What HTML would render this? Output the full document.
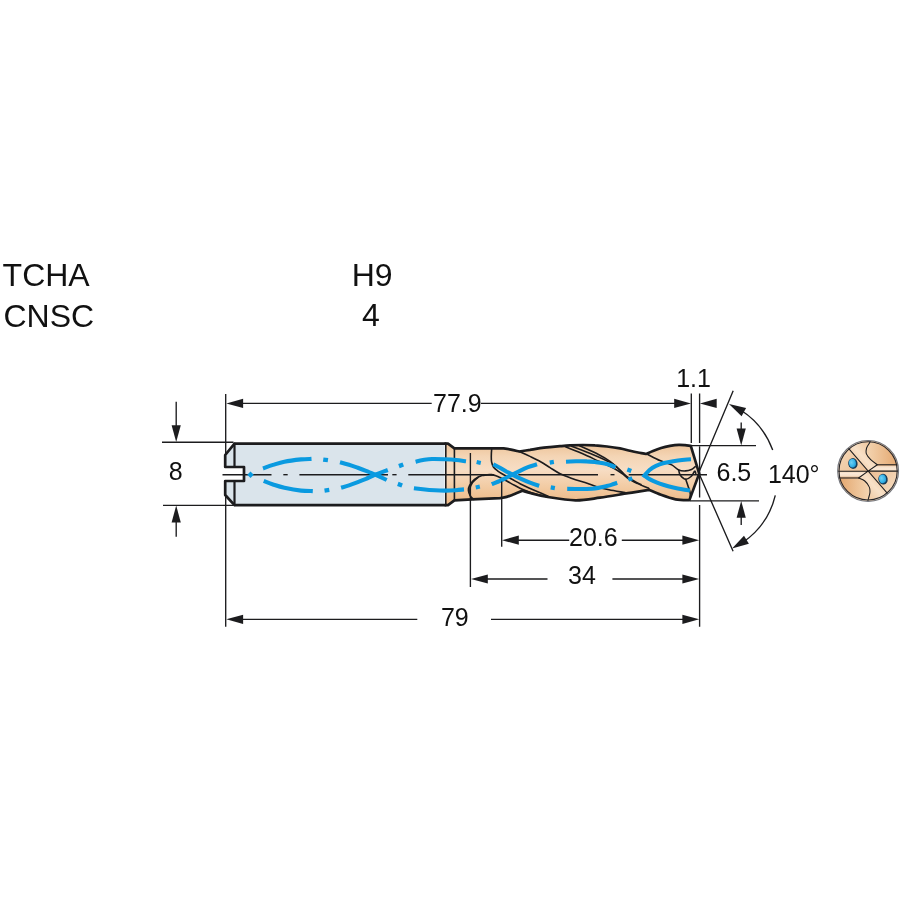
<!DOCTYPE html>
<html lang="en"><head><meta charset="utf-8"><title>Drill dimension drawing</title>
<style>
html,body{margin:0;padding:0;background:#fff;}
body{width:900px;height:900px;overflow:hidden;position:relative;font-family:"Liberation Sans",Arial,Helvetica,sans-serif;color:#111;}
svg{position:absolute;left:0;top:0;display:block;will-change:transform;}
.t{font-family:"Liberation Sans",Arial,Helvetica,sans-serif;fill:#111;}
.big{font-size:32px;}
.dim{font-size:25px;}
.thin{fill:none;stroke:#1c1c1e;stroke-width:1.35;}
.out{fill:none;stroke:#1c1c1e;stroke-width:2.7;stroke-linejoin:round;stroke-linecap:round;}
.med{fill:none;stroke:#1c1c1e;stroke-width:1.6;stroke-linecap:round;stroke-linejoin:round;}
.blue{fill:none;stroke:#0a9ae0;stroke-width:4.1;}
.ar{fill:#1c1c1e;stroke:none;}
</style></head><body>
<svg width="900" height="900" viewBox="0 0 900 900">
<defs>
<linearGradient id="gd" x1="0" y1="444" x2="0" y2="501" gradientUnits="userSpaceOnUse"><stop offset="0" stop-color="#edc399"/><stop offset="0.22" stop-color="#f4d5b5"/><stop offset="0.45" stop-color="#f7ddc4"/><stop offset="0.75" stop-color="#f2cba3"/><stop offset="1" stop-color="#edbb8a"/></linearGradient>
<linearGradient id="gc" x1="838" y1="441" x2="899" y2="502" gradientUnits="userSpaceOnUse"><stop offset="0" stop-color="#f4d3b2"/><stop offset="0.5" stop-color="#efc59c"/><stop offset="1" stop-color="#e7b080"/></linearGradient>
</defs>
<text class="t big" x="2.6" y="286.3">TCHA</text>
<text class="t big" x="3.5" y="326.7">CNSC</text>
<text class="t big" x="372.2" y="286.3" text-anchor="middle">H9</text>
<text class="t big" x="371" y="326.3" text-anchor="middle">4</text>
<path d="M234.5,443.7 L444.6,443.7 L444.6,505.2 L234.5,505.2 L225.2,495 L225.2,481 L244,481 L244,467 L225.2,467 L225.2,455 Z" fill="#dae4eb"/>
<path d="M445.5,443.7 L448,443.7 L454.4,448.3 L503,448.3  C504.3,448.5 508.3,449.1 511,449.6 C513.7,450.1 517.8,451.2 519.2,451.5 C521,451.2 526.5,450.4 530,449.9 C533.5,449.3 536.7,448.7 540,448.2 C543.3,447.7 546.7,447.4 550,447.1 C553.3,446.8 556.7,446.5 560,446.2 C563.3,445.9 566.2,445.6 570,445.4 C573.8,445.2 578.8,445 583,445 C587.2,445 591,445.1 595,445.4 C599,445.6 602.8,446 607,446.5 C611.2,447 616.2,447.7 620,448.4 C623.8,449.1 627,450.1 630,450.8 C633,451.5 635.3,452 638,452.5 C640.7,453 644.7,453.8 646,454 C647.2,453.5 650.5,452 653,451 C655.5,450 658.3,448.9 661.1,448 C663.9,447.1 667,446.4 670,445.9 C673,445.4 676.4,445 678.9,444.9 C681.4,444.8 683,445 685,445.2 C687,445.4 689.8,445.8 690.8,445.9 L699.2,473.6 L689.4,500.1  C687.1,500 680.3,500.2 675.6,499.3 C670.9,498.4 665.4,496.4 661,494.8 C656.6,493.2 651,490.6 649,489.8 C645.5,490.4 636.2,491.9 628,493.2 C619.8,494.5 608.8,496.5 600,497.7 C591.2,498.9 584.2,500.4 575.5,500.3 C566.8,500.2 555.2,498.2 547.8,497 C540.4,495.8 535.2,494.4 531,493.3 C526.8,492.2 523.8,491.1 522.3,490.7 C520.9,491.3 516.6,493.2 514,494.2 C511.4,495.2 509,496.2 506.7,496.9 C504.4,497.6 501.1,498 500,498.2 L472,499.4 L454.4,500.4 L448,505.2 L445.5,505.2 Z" fill="url(#gd)"/>
<path class="thin" d="M222.5,474.7 H271.5"/>
<path class="thin" d="M283.3,474.7 H287.7"/>
<path class="thin" d="M299.4,474.7 H388"/>
<path class="thin" d="M392.3,474.7 H396.6"/>
<path class="thin" d="M408.3,474.7 H494"/>
<path class="thin" d="M518.3,474.7 H598"/>
<path class="thin" d="M610.5,474.7 H614.5"/>
<path class="thin" d="M628.7,474.7 H707"/>
<path class="med" d="M445.8,443.7 V505.2"/>
<path class="med" style="stroke-width:1.6" d="M454.4,448.3 V500.4"/>
<path class="med" d="M491.7,448.6 C491.6,449.8 491.3,453.8 491.3,456 C491.3,458.2 491.2,460.2 491.6,462 C492,463.8 492.4,465.5 493.4,467 C494.4,468.5 495.9,469.6 497.5,470.8 C499.1,472 500.6,472.9 502.8,474.2 C505.1,475.5 508.1,477.2 511,478.8 C514,480.4 517.5,482.5 520.5,484 C523.5,485.5 526,486.6 529,487.9 C532,489.2 535.1,490.6 538.3,492 C541.5,493.4 546.4,495.5 548,496.2"/>
<path class="med" d="M486,474.7 C487.3,474.8 491.6,474.6 493.9,475.1 C496.2,475.6 497.8,476.6 500,477.6 C502.2,478.6 504.8,480 507.2,481.3 C509.6,482.6 512,484 514.5,485.3 C517,486.6 519.7,488.2 522.3,489.3 C524.9,490.4 527.3,491.3 530,492.2 C532.7,493.1 535.3,493.9 538.3,494.7 C541.3,495.5 546.4,496.4 548,496.8"/>
<path class="med" d="M492,474.5 C490.3,474.7 484.9,474.8 482,475.6 C479.1,476.4 476.6,477.9 474.5,479.5 C472.4,481.1 470.6,483.7 469.6,485.5 C468.6,487.3 468.3,488.8 468.4,490.5 C468.5,492.2 469.4,494.3 470.3,495.8 C471.2,497.3 473.2,498.8 473.8,499.4"/>
<path class="med" d="M478,477.5 C477.1,478.4 473.8,480.8 472.5,482.6 C471.2,484.4 470.4,486.3 470,488.5 C469.6,490.7 470.2,494.6 470.3,495.8"/>
<path class="med" d="M519.2,451.4 C521,452.2 526.4,454.7 530,456.4 C533.6,458.1 537.3,459.8 540.6,461.7 C543.9,463.6 546.8,465.6 550,467.6 C553.2,469.6 556.4,471.9 560.1,473.7 C563.8,475.5 567.9,476.9 572,478.4 C576.1,479.9 581,481.3 585,482.6 C589,483.9 592,485.2 596,486.4 C600,487.6 604.2,488.8 609,489.8 C613.8,490.8 622.3,492.1 625,492.6"/>
<path class="med" d="M565.5,446.8 C568.3,447.9 576.6,451.2 582.2,453.6 C587.8,456 593.7,458.9 598.9,461.3 C604.1,463.7 609.4,465.9 613.3,468 C617.2,470.1 619.6,471.8 622.2,473.6 C624.8,475.5 626.3,477.4 628.9,479.1 C631.5,480.8 634.5,482.1 637.8,483.6 C641.1,485.2 647,487.6 648.9,488.4"/>
<path class="med" d="M571.5,446.2 C575.1,447.6 586.9,452 593.3,454.7 C599.7,457.4 605.7,460 610,462.4 C614.3,464.8 616.1,466.8 618.9,469.1 C621.7,471.4 623.9,474.2 626.7,476.3 C629.5,478.4 633.2,480.5 635.6,481.9 C638,483.3 640.1,484.2 641,484.6"/>
<path class="med" d="M579.5,445.8 C582.7,447.3 593.8,452.1 598.9,454.7 C604,457.3 606.9,459.1 610,461.3 C613.1,463.5 615.7,466.1 617.8,468 C619.9,469.9 621.7,471.8 622.5,472.6"/>
<path class="med" d="M646.5,453.8 C648.8,454.9 655.8,458.8 660,460.6 C664.2,462.5 668.6,463.3 671.7,464.9 C674.8,466.5 676.4,469 678.7,470 C681,471 683.6,471 685.7,470.9 C687.8,470.8 689.9,470.1 691.5,469.4 C693.1,468.7 694.6,467.1 695.2,466.6"/>
<path class="med" d="M678.7,470 C679,470.8 679,473.4 680.2,475 C681.4,476.6 683.9,479.1 685.7,479.3 C687.5,479.6 689.6,477.8 691.1,476.5 C692.6,475.2 693.8,471.8 694.6,471.3 C695.4,470.8 695.6,473 695.8,473.4"/>
<path class="med" d="M685.7,479.3 C686.1,480.4 687.3,483.9 688,486 C688.7,488.1 689.6,490.2 690,492 C690.4,493.8 690.3,496.2 690.4,497"/>
<rect x="248.2" y="472.4" width="4.6" height="4.6" fill="#0a9ae0" transform="rotate(45 250.5 474.7)"/>
<path class="blue" d="M263,468.5 C264.7,467.9 269.4,466 273,464.9 C276.6,463.8 279.7,462.6 284.4,461.7 C289.1,460.8 296.6,459.9 301.1,459.4 C305.6,458.9 309.8,459 311.5,458.9"/>
<path class="blue" d="M263.7,481 C265.2,481.6 269.6,483.4 273,484.5 C276.4,485.6 279.7,486.8 284.4,487.8 C289.1,488.8 296.4,490.1 301.1,490.6 C305.8,491.2 310.9,491 312.8,491.1"/>
<rect x="323.2" y="457.7" width="4.8" height="4.3" fill="#0a9ae0" transform="rotate(8 325.6 459.8)"/>
<rect x="324.5" y="488.1" width="4.8" height="4.3" fill="#0a9ae0" transform="rotate(-8 326.9 490.2)"/>
<path class="blue" d="M340,462.2 C341.5,462.6 346,463.8 349,464.7 C352,465.6 355,466.8 357.8,467.8 C360.6,468.8 363.1,469.7 366,470.8 C368.9,471.9 371.8,473.2 375.2,474.7 C378.6,476.2 384.8,479.1 386.7,480"/>
<path class="blue" d="M341.1,487.8 C342.4,487.4 346.2,486.3 349,485.4 C351.8,484.5 355,483.3 357.8,482.2 C360.6,481.1 363.1,480.1 366,478.9 C368.9,477.6 371.6,476.2 375.2,474.7 C378.8,473.2 385.7,470.8 387.8,470"/>
<rect x="398.8" y="463.1" width="4.6" height="4.4" fill="#0a9ae0" transform="rotate(-20 401.1 465.3)"/>
<rect x="397.7" y="482.5" width="4.6" height="4.4" fill="#0a9ae0" transform="rotate(20 400 484.7)"/>
<path class="blue" d="M415.6,461.7 C416.8,461.4 420.3,460.4 423,460 C425.7,459.6 428.3,459.1 432,459 C435.7,458.9 441,459.1 445,459.3 C449,459.5 452.5,459.7 456,460 C459.5,460.3 464.3,461.1 466,461.3"/>
<path class="blue" d="M413.9,488.2 C415.8,488.4 421.5,489.1 425,489.5 C428.5,489.9 431.7,490.1 435,490.3 C438.3,490.5 441.5,490.6 445,490.6 C448.5,490.6 452.8,490.4 456,490.2 C459.2,490 462.7,489.5 464,489.4"/>
<rect x="476.6" y="460.4" width="4.2" height="4.2" fill="#0a9ae0" transform="rotate(12 478.7 462.5)"/>
<rect x="475.7" y="484.9" width="4.2" height="4.2" fill="#0a9ae0" transform="rotate(-12 477.8 487)"/>
<path class="blue" d="M493.3,464.2 C494.4,464.8 497.8,466.6 500,467.8 C502.2,469.1 503.4,469.9 506.7,471.7 C510,473.4 516.1,476.5 520,478.3 C523.9,480.1 526.8,481.4 530,482.6 C533.2,483.9 537.7,485.3 539.2,485.8"/>
<path class="blue" d="M491.7,484.2 C493.1,483.6 497.5,482 500,480.9 C502.5,479.8 503.4,479.2 506.7,477.5 C510,475.8 516.5,472.5 520,470.8 C523.5,469.1 525.2,468.3 528,467.2 C530.8,466.1 535.5,464.8 537,464.3"/>
<rect x="549.7" y="460.2" width="4.2" height="4.2" fill="#0a9ae0" transform="rotate(-10 551.8 462.3)"/>
<rect x="550.7" y="485.6" width="4.2" height="4.2" fill="#0a9ae0" transform="rotate(10 552.8 487.7)"/>
<path class="blue" d="M566,461.7 C567.7,461.6 572.5,461.4 576,461.3 C579.5,461.2 583.4,461.2 586.7,461.4 C590,461.5 593.2,461.9 596,462.2 C598.8,462.5 601,462.8 603.3,463.3 C605.6,463.8 608,464.4 610,465 C612,465.6 614.6,466.8 615.5,467.2"/>
<path class="blue" d="M567.2,488.9 C569.3,488.9 575.8,489 580,489 C584.2,489 588.9,488.9 592.2,488.7 C595.5,488.5 597.6,488 600,487.6 C602.4,487.2 604.7,486.6 606.7,486.1 C608.7,485.6 610.2,485.2 612,484.6 C613.8,484.1 616.3,483.1 617.2,482.8"/>
<rect x="627.2" y="468.2" width="4.2" height="4.2" fill="#0a9ae0" transform="rotate(20 629.3 470.3)"/>
<rect x="628.2" y="476.8" width="4.2" height="4.2" fill="#0a9ae0" transform="rotate(-20 630.3 478.9)"/>
<path class="blue" style="stroke-linejoin:miter;stroke-miterlimit:10" d="M691,459.2 C689.5,459.3 685,459.7 682,460 C679,460.3 676.3,460.7 673.3,461.2 C670.3,461.7 666.9,462.3 664,463.1 C661.1,463.9 658.4,464.8 656,465.9 C653.6,467 651.4,468.4 649.5,470 C647.6,471.6 645.2,474.8 644.4,475.7  C645.3,476.3 648,478.3 650,479.4 C652,480.5 654.2,481.5 656.5,482.4 C658.8,483.3 661.2,484.1 664,485 C666.8,485.9 670.3,486.8 673.3,487.5 C676.3,488.2 679.2,488.8 682,489.3 C684.8,489.8 688.7,490.3 690,490.5"/>
<path class="out" d="M445.5,505.2 L234.5,505.2 L225.2,495 L225.2,481 L244,481 L244,467 L225.2,467 L225.2,455 L234.5,443.7 L445.5,443.7"/>
<path class="out" style="stroke-width:2.2" d="M234.5,443.7 V467 M234.5,481 V505.2"/>
<path class="out" d="M445.5,443.7 L448,443.7 L454.4,448.3 L503,448.3  C504.3,448.5 508.3,449.1 511,449.6 C513.7,450.1 517.8,451.2 519.2,451.5 C521,451.2 526.5,450.4 530,449.9 C533.5,449.3 536.7,448.7 540,448.2 C543.3,447.7 546.7,447.4 550,447.1 C553.3,446.8 556.7,446.5 560,446.2 C563.3,445.9 566.2,445.6 570,445.4 C573.8,445.2 578.8,445 583,445 C587.2,445 591,445.1 595,445.4 C599,445.6 602.8,446 607,446.5 C611.2,447 616.2,447.7 620,448.4 C623.8,449.1 627,450.1 630,450.8 C633,451.5 635.3,452 638,452.5 C640.7,453 644.7,453.8 646,454 C647.2,453.5 650.5,452 653,451 C655.5,450 658.3,448.9 661.1,448 C663.9,447.1 667,446.4 670,445.9 C673,445.4 676.4,445 678.9,444.9 C681.4,444.8 683,445 685,445.2 C687,445.4 689.8,445.8 690.8,445.9 L699.2,473.6 L689.4,500.1  C687.1,500 680.3,500.2 675.6,499.3 C670.9,498.4 665.4,496.4 661,494.8 C656.6,493.2 651,490.6 649,489.8 C645.5,490.4 636.2,491.9 628,493.2 C619.8,494.5 608.8,496.5 600,497.7 C591.2,498.9 584.2,500.4 575.5,500.3 C566.8,500.2 555.2,498.2 547.8,497 C540.4,495.8 535.2,494.4 531,493.3 C526.8,492.2 523.8,491.1 522.3,490.7 C520.9,491.3 516.6,493.2 514,494.2 C511.4,495.2 509,496.2 506.7,496.9 C504.4,497.6 501.1,498 500,498.2 L472,499.4 L454.4,500.4 L448,505.2 L445.5,505.2"/>
<path class="thin" d="M225.7,394 V455 M225.7,495 V626.8 M691.3,393.5 V443 M699.6,393.5 V443 M699.6,446.6 V497.5 M699.6,505 V626.8 M470.4,453 V587 M501.7,481.6 V546.7 M162,442.2 H233.5 M163,505.4 H233.5 M691,445.6 H756 M690,500.9 H759"/>
<path class="thin" d="M240,403.3 H431.7 M481,403.3 H676 M176.2,401.7 V428 M176.2,520 V536.7 M741.2,422.5 V430 M741.2,517 V525 M516,540.2 H569.2 M621.8,540.2 H685 M485,579 H547.5 M612.4,579 H685 M240,619.3 H417.3 M491,619.3 H685"/>
<path class="ar" d="M226.3,403.4 L243.1,398.8 L243.1,408 Z"/>
<path class="ar" d="M691,403.4 L674.2,408 L674.2,398.8 Z"/>
<path class="ar" d="M699.9,403.4 L716.7,398.8 L716.7,408 Z"/>
<path class="ar" d="M176.2,442 L171.6,425.2 L180.8,425.2 Z"/>
<path class="ar" d="M176.2,505.6 L180.8,522.4 L171.6,522.4 Z"/>
<path class="ar" d="M741.2,445.4 L736.6,428.6 L745.8,428.6 Z"/>
<path class="ar" d="M741.2,500.9 L745.8,517.7 L736.6,517.7 Z"/>
<path class="ar" d="M502,540.2 L518.8,535.6 L518.8,544.8 Z"/>
<path class="ar" d="M699.2,540.2 L682.4,544.8 L682.4,535.6 Z"/>
<path class="ar" d="M471,579 L487.8,574.4 L487.8,583.6 Z"/>
<path class="ar" d="M699.2,579 L682.4,583.6 L682.4,574.4 Z"/>
<path class="ar" d="M226.3,619.3 L243.1,614.7 L243.1,623.9 Z"/>
<path class="ar" d="M699.2,619.3 L682.4,623.9 L682.4,614.7 Z"/>
<path class="thin" d="M698.7,472.7 L733.2,390.8 M698.7,472.7 L733.1,551.3"/>
<path class="thin" d="M741,410.3 A79.3,79.3 0 0 1 772.7,450.1 M775.3,495.4 A79.3,79.3 0 0 1 743.7,541.8"/><path class="ar" d="M729,403.9 L746.1,408.1 L741.6,416.3 Z"/><path class="ar" d="M732,548.6 L744,535.8 L748.9,543.8 Z"/>
<text class="t dim" x="457.4" y="412" text-anchor="middle">77.9</text>
<text class="t dim" x="693.6" y="386.9" text-anchor="middle">1.1</text>
<text class="t dim" x="175.8" y="480" text-anchor="middle">8</text>
<text class="t dim" x="733.9" y="481.4" text-anchor="middle">6.5</text>
<text class="t dim" x="767.9" y="482.6">140°</text>
<text class="t dim" x="593.4" y="545.6" text-anchor="middle">20.6</text>
<text class="t dim" x="582" y="583.6" text-anchor="middle">34</text>
<text class="t dim" x="454.8" y="626" text-anchor="middle">79</text>
<defs>
<clipPath id="cc"><circle cx="868.1" cy="470.9" r="30.2"/></clipPath>
<linearGradient id="gA" x1="840" y1="450" x2="866" y2="472" gradientUnits="userSpaceOnUse"><stop offset="0" stop-color="#f4d6b5"/><stop offset="1" stop-color="#ecc097"/></linearGradient>
<linearGradient id="gE" x1="872" y1="472" x2="896" y2="492" gradientUnits="userSpaceOnUse"><stop offset="0" stop-color="#ecc097"/><stop offset="1" stop-color="#f6dcc0"/></linearGradient>
<linearGradient id="gB" x1="853" y1="466" x2="871" y2="450" gradientUnits="userSpaceOnUse"><stop offset="0" stop-color="#ecc29a"/><stop offset="0.55" stop-color="#f8e1c8"/><stop offset="1" stop-color="#f1cda8"/></linearGradient>
<linearGradient id="gF" x1="883" y1="476" x2="865" y2="492" gradientUnits="userSpaceOnUse"><stop offset="0" stop-color="#ecc29a"/><stop offset="0.55" stop-color="#f8e1c8"/><stop offset="1" stop-color="#f1cda8"/></linearGradient>
<linearGradient id="gC" x1="866" y1="0" x2="899" y2="0" gradientUnits="userSpaceOnUse"><stop offset="0" stop-color="#f4d5b2"/><stop offset="1" stop-color="#e3a56c"/></linearGradient>
<linearGradient id="gG" x1="838" y1="0" x2="870" y2="0" gradientUnits="userSpaceOnUse"><stop offset="0" stop-color="#e3a56c"/><stop offset="1" stop-color="#f4d5b2"/></linearGradient>
<linearGradient id="gR" x1="0" y1="464.7" x2="0" y2="471.1" gradientUnits="userSpaceOnUse"><stop offset="0" stop-color="#c48d5c"/><stop offset="0.3" stop-color="#f6dfc8"/><stop offset="0.7" stop-color="#fae9d8"/><stop offset="1" stop-color="#f3d3b0"/></linearGradient>
<linearGradient id="gL" x1="0" y1="471.3" x2="0" y2="478" gradientUnits="userSpaceOnUse"><stop offset="0" stop-color="#f3d3b0"/><stop offset="0.3" stop-color="#fae9d8"/><stop offset="0.7" stop-color="#f6dfc8"/><stop offset="1" stop-color="#cf9a68"/></linearGradient>
<radialGradient id="gH" cx="0.38" cy="0.4" r="0.7"><stop offset="0" stop-color="#6fcff3"/><stop offset="0.6" stop-color="#3ab5e9"/><stop offset="1" stop-color="#2196d2"/></radialGradient>
</defs>
<circle cx="868.1" cy="470.9" r="30.4" fill="#efc9a3"/>
<g clip-path="url(#cc)">
<path d="M830,471.3 L868.1,471.1 L842.5,441.3 L830,435 Z" fill="url(#gA)"/>
<path d="M905,471.1 L868.1,471.1 L894.3,501.3 L905,505 Z" fill="url(#gE)"/>
<path d="M868.1,471.1 L842.5,441.3 L871,430  L870.6,439.5 C870.4,440.1 870.3,441.4 869.6,442.8 C868.9,444.2 867.1,446.1 866.6,448 C866.1,449.9 865.7,451.9 866.4,453.9 C867.1,455.8 868.9,457.9 870.7,459.7 C872.5,461.5 876.2,463.9 877.3,464.7 L868.1,471.1 Z" fill="url(#gB)"/>
<path d="M868.1,471.1 L858.6,478  C859.6,478.5 863,479.5 864.8,481 C866.6,482.5 868.4,484.9 869.2,486.9 C870.1,488.8 870.1,490.6 869.9,492.7 C869.7,494.8 868.6,497.7 868.2,499.3 C867.8,500.9 867.5,502 867.4,502.5 L880,510 L894.3,501.3 Z" fill="url(#gF)"/>
<path d="M870.6,439.5 C870.4,440.1 870.3,441.4 869.6,442.8 C868.9,444.2 867.1,446.1 866.6,448 C866.1,449.9 865.7,451.9 866.4,453.9 C867.1,455.8 868.9,457.9 870.7,459.7 C872.5,461.5 876.2,463.9 877.3,464.7 L905,464.7 L905,430 Z" fill="url(#gC)"/>
<path d="M858.6,478 C859.6,478.5 863,479.5 864.8,481 C866.6,482.5 868.4,484.9 869.2,486.9 C870.1,488.8 870.1,490.6 869.9,492.7 C869.7,494.8 868.6,497.7 868.2,499.3 C867.8,500.9 867.5,502 867.4,502.5 L830,510 L830,478 Z" fill="url(#gG)"/>
<path d="M868.1,471.1 L877.3,464.7 L905,464.7 L905,471.1 Z" fill="url(#gR)"/>
<path d="M868.1,471.1 L858.6,478 L830,478 L830,471.3 Z" fill="url(#gL)"/>
<g style="fill:none;stroke:#1c1c1e;stroke-width:1.05;stroke-linecap:round;stroke-linejoin:round">
<path d="M842.5,441.3 L894.3,501.3"/>
<path d="M830,471.3 H868.1 M830,478 H858.6 L868.1,471.1 M905,471.1 H868.1 M905,464.7 H877.3 L868.1,471.1"/>
<path d="M870.6,439.5 C870.4,440.1 870.3,441.4 869.6,442.8 C868.9,444.2 867.1,446.1 866.6,448 C866.1,449.9 865.7,451.9 866.4,453.9 C867.1,455.8 868.9,457.9 870.7,459.7 C872.5,461.5 876.2,463.9 877.3,464.7"/>
<path d="M858.6,478 C859.6,478.5 863,479.5 864.8,481 C866.6,482.5 868.4,484.9 869.2,486.9 C870.1,488.8 870.1,490.6 869.9,492.7 C869.7,494.8 868.6,497.7 868.2,499.3 C867.8,500.9 867.5,502 867.4,502.5"/>
</g>
</g>
<ellipse cx="852.9" cy="463.5" rx="4.7" ry="5.4" fill="#173f5c" transform="rotate(-10 852.9 463.5)"/>
<ellipse cx="852.5" cy="463.1" rx="3.5" ry="4.3" fill="url(#gH)" transform="rotate(-10 852.9 463.5)"/>
<ellipse cx="883" cy="479.2" rx="4.7" ry="5.4" fill="#173f5c" transform="rotate(-10 883 479.2)"/>
<ellipse cx="882.6" cy="478.8" rx="3.5" ry="4.3" fill="url(#gH)" transform="rotate(-10 883 479.2)"/>
<circle cx="868.1" cy="470.9" r="29.1" fill="none" stroke="#26262a" stroke-width="1.1"/>
<circle cx="868.1" cy="470.9" r="30.4" fill="none" stroke="#74777e" stroke-width="1.2"/>
</svg>
</body></html>
